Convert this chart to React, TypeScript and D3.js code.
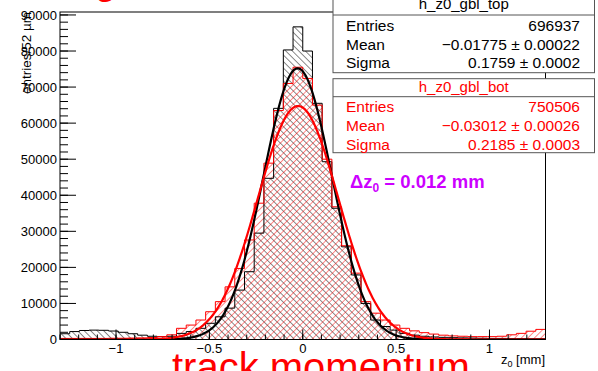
import React from "react";
import * as d3 from "d3";

const W = 598;
const H = 371;

// histogram binning (z0 in mm)
const xLow = -1.3;
const xHigh = 1.3;
const nBins = 50;

// h_z0_gbl_top (black)
const topCounts = [
  1600, 2200, 2500, 2600, 2550, 2350, 2000, 1600, 1200, 900,
  800, 900, 1700, 2200, 3100, 4500, 6300, 8700, 13700, 18800,
  29500, 44700, 64100, 80300, 86700, 80000, 65500, 49300, 36400, 25700,
  17900, 10000, 5400, 3600, 2600, 1700, 1200, 900, 700, 600,
  500, 450, 400, 350, 300, 300, 250, 250, 200, 200,
];

// h_z0_gbl_bot (red)
const botCounts = [
  300, 300, 300, 300, 300, 350, 350, 400, 450, 550,
  800, 1300, 3100, 4000, 5400, 7700, 10500, 14600, 19700, 27600,
  37800, 48900, 63500, 71000, 75500, 72400, 65000, 50000, 36800, 26000,
  18400, 10500, 7300, 5400, 4000, 3100, 2400, 1900, 1500, 1200,
  1000, 900, 800, 800, 800, 900, 1300, 1700, 2300, 2800,
];

// gaussian fit parameters [amplitude, mean, sigma]
const fitTop = [75200, -0.027, 0.182];
const fitBot = [64750, -0.025, 0.215];

const xMajorTicks = [-1, -0.5, 0, 0.5, 1];
const xMajorLabels = ["\u22121", "\u22120.5", "0", "0.5", "1"];
const yMajorTicks = [0, 10000, 20000, 30000, 40000, 50000, 60000, 70000, 80000, 90000];
const yMax = 90820;

const statsTopTitle = "h_z0_gbl_top";
const statsTopRows = [
  ["Entries", "696937"],
  ["Mean", "\u22120.01775 \u00b1 0.00022"],
  ["Sigma", "0.1759 \u00b1 0.0002"],
];
const statsBotTitle = "h_z0_gbl_bot";
const statsBotRows = [
  ["Entries", "750506"],
  ["Mean", "\u22120.03012 \u00b1 0.00026"],
  ["Sigma", "0.2185 \u00b1 0.0003"],
];

const FONT = "'Liberation Sans', Arial, Helvetica, sans-serif";

export default function App() {
  const left = 60;
  const right = 545.5;
  const top = 12;
  const bottom = 339.5;

  const x = d3.scaleLinear().domain([xLow, xHigh]).range([left, right]);
  const y = d3.scaleLinear().domain([0, yMax]).range([bottom, top]);
  const bw = (xHigh - xLow) / nBins;

  const stepPoints = (counts: number[]) => {
    const pts: [number, number][] = [[xLow, 0]];
    counts.forEach((c, i) => {
      pts.push([xLow + i * bw, c]);
      pts.push([xLow + (i + 1) * bw, c]);
    });
    pts.push([xHigh, 0]);
    return pts;
  };
  const line = d3
    .line<[number, number]>()
    .x((d) => x(d[0]))
    .y((d) => y(d[1]));

  const gaus = (p: number[]) => {
    const pts: [number, number][] = [];
    const n = 500;
    for (let i = 0; i <= n; i++) {
      const v = xLow + ((xHigh - xLow) * i) / n;
      pts.push([v, p[0] * Math.exp(-0.5 * ((v - p[1]) / p[2]) ** 2)]);
    }
    return pts;
  };

  const xMinor = d3.range(-13, 14).map((k) => k / 10).filter((v) => v >= xLow && v <= xHigh);
  const yMinor = d3.range(0, yMax, 2000);

  const statBox = (
    bx: number,
    by: number,
    bh: number,
    title: string,
    rows: string[][],
    color: string,
    titleH: number,
    titleBase: number,
    rowBase: number[]
  ) => (
    <g>
      <rect x={bx} y={by} width={594.5 - bx} height={bh} fill="white" stroke="#555" strokeWidth={1} />
      <line x1={bx} x2={594.5} y1={by + titleH} y2={by + titleH} stroke="#555" strokeWidth={1} />
      <text x={(bx + 594.5) / 2} y={titleBase} textAnchor="middle" fontSize={15} fill={color} fontFamily={FONT}>
        {title}
      </text>
      {rows.map((r, i) => (
        <g key={i}>
          <text x={346} y={rowBase[i]} fontSize={15.5} fill={color} fontFamily={FONT}>
            {r[0]}
          </text>
          <text x={580} y={rowBase[i]} textAnchor="end" fontSize={15.5} fill={color} fontFamily={FONT}>
            {r[1]}
          </text>
        </g>
      ))}
    </g>
  );

  return (
    <svg
      width={W}
      height={H}
      style={{ position: "absolute", left: 0, top: 0, background: "white" }}
      xmlns="http://www.w3.org/2000/svg"
    >
      <defs>
        <pattern id="hatchBlack" width={4.6} height={4.6} patternUnits="userSpaceOnUse" patternTransform="rotate(-45)">
          <line x1={0} y1={0} x2={0} y2={4.6} stroke="#000" strokeWidth={0.9} />
        </pattern>
        <pattern id="hatchRed" width={4.6} height={4.6} patternUnits="userSpaceOnUse" patternTransform="rotate(45)">
          <line x1={0} y1={0} x2={0} y2={4.6} stroke="#ff0000" strokeWidth={0.9} />
        </pattern>
        <clipPath id="frameClip">
          <rect x={left} y={top} width={right - left} height={bottom - top} />
        </clipPath>
      </defs>
      <rect x={0} y={0} width={W} height={H} fill="white" />

      {/* partially visible title at top */}
      <text x={94} y={2} fontSize={40} fill="#ff0000" fontFamily={FONT}>
        o
      </text>

      <g clipPath="url(#frameClip)">
        <path d={line(stepPoints(topCounts)) || ""} fill="url(#hatchBlack)" stroke="none" />
        <path d={line(stepPoints(botCounts)) || ""} fill="url(#hatchRed)" stroke="none" />
        <path d={line(stepPoints(topCounts)) || ""} fill="none" stroke="#000" strokeWidth={1} />
        <path d={line(stepPoints(botCounts)) || ""} fill="none" stroke="#ff0000" strokeWidth={1} />
        <path d={line(gaus(fitTop)) || ""} fill="none" stroke="#000" strokeWidth={2.2} />
        <path d={line(gaus(fitBot)) || ""} fill="none" stroke="#ff0000" strokeWidth={2.2} />
      </g>

      {/* frame */}
      <rect x={left} y={top} width={right - left} height={bottom - top} fill="none" stroke="#000" strokeWidth={1} />

      {/* x axis ticks */}
      {xMinor.map((v, i) => (
        <line key={"xm" + i} x1={x(v)} x2={x(v)} y1={bottom} y2={bottom - 5} stroke="#000" strokeWidth={1} />
      ))}
      {xMajorTicks.map((v, i) => (
        <g key={"xM" + i}>
          <line x1={x(v)} x2={x(v)} y1={bottom} y2={bottom - 10} stroke="#000" strokeWidth={1} />
          <text x={x(v)} y={353} textAnchor="middle" fontSize={13} fontFamily={FONT} fill="#000">
            {xMajorLabels[i]}
          </text>
        </g>
      ))}

      {/* y axis ticks */}
      {yMinor.map((v, i) => (
        <line key={"ym" + i} x1={left} x2={left + 8} y1={y(v)} y2={y(v)} stroke="#000" strokeWidth={1} />
      ))}
      {yMajorTicks.map((v, i) => (
        <g key={"yM" + i}>
          <line x1={left} x2={left + 16} y1={y(v)} y2={y(v)} stroke="#000" strokeWidth={1} />
          <text x={57} y={y(v) + 4.7} textAnchor="end" fontSize={13} fontFamily={FONT} fill="#000">
            {String(v)}
          </text>
        </g>
      ))}

      {/* axis titles */}
      <text
        transform="translate(31,12) rotate(-90)"
        textAnchor="end"
        fontSize={13.5}
        fontFamily={FONT}
        fill="#000"
      >
        entries/52 µm
      </text>
      <text x={545} y={364} textAnchor="end" fontSize={13} fontFamily={FONT} fill="#000">
        z
        <tspan fontSize={9} dy={3}>0</tspan>
        <tspan dy={-3}> [mm]</tspan>
      </text>

      {/* stat boxes */}
      {statBox(333, -6, 78.7, statsTopTitle, statsTopRows, "#000", 21, 9, [30.5, 49.5, 68])}
      {statBox(333, 78.7, 74, statsBotTitle, statsBotRows, "#ff0000", 18, 92, [112, 131, 149.5])}

      {/* delta label */}
      <text x={350} y={188} fontSize={18.5} fontWeight="bold" fontFamily={FONT} fill="#cc00ff">
        Δz
        <tspan fontSize={12} dy={4}>0</tspan>
        <tspan dy={-4}> = 0.012 mm</tspan>
      </text>

      {/* bottom label, partially cut */}
      <text x={172} y={381} fontSize={40} fontFamily={FONT} fill="#ff0000">
        track momentum
      </text>
    </svg>
  );
}
